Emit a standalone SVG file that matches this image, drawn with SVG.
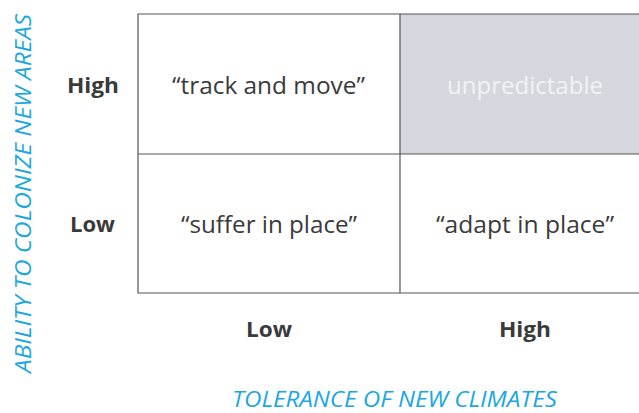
<svg xmlns="http://www.w3.org/2000/svg" width="639" height="413" viewBox="0 0 639 413">
<style>
.cell{font-family:"Open Sans","Noto Sans",sans-serif;font-size:23px;fill:#3a3a3a;text-anchor:middle}
.lab{font-family:"Open Sans","Noto Sans",sans-serif;font-size:22px;font-weight:bold;fill:#3a3a3a;text-anchor:middle}
.axis{font-family:"Open Sans","Noto Sans",sans-serif;font-size:22px;font-style:italic;fill:#1aa7e2;text-anchor:middle}
.ln{stroke:#555;stroke-width:1.2;fill:none}
</style>
<rect width="639" height="413" fill="#fff"/>
<g id="grid">
<rect id="gray" x="400" y="14" width="239" height="140" fill="#d5d6de"/>
<path class="ln" d="M639 14H138V293H639M400 14V293M138 154H639"/>
</g>
<g id="n-track"><text class="cell" x="268.5" y="94" textLength="193" lengthAdjust="spacingAndGlyphs">“track and move”</text></g>
<g id="n-unpred"><text class="cell" x="525" y="94" style="fill:#f2f2f4" textLength="156" lengthAdjust="spacingAndGlyphs">unpredictable</text></g>
<g id="n-suffer"><text class="cell" x="269" y="233" textLength="176" lengthAdjust="spacingAndGlyphs">“suffer in place”</text></g>
<g id="n-adapt"><text class="cell" x="525" y="233" textLength="178" lengthAdjust="spacingAndGlyphs">“adapt in place”</text></g>
<g id="labels">
<text class="lab" x="93" y="93" textLength="52" lengthAdjust="spacingAndGlyphs">High</text>
<text class="lab" x="92.5" y="232" textLength="45" lengthAdjust="spacingAndGlyphs">Low</text>
<text class="lab" x="269" y="337" textLength="46" lengthAdjust="spacingAndGlyphs">Low</text>
<text class="lab" x="525" y="337" textLength="52" lengthAdjust="spacingAndGlyphs">High</text>
<text class="axis" x="394.5" y="407" textLength="325" lengthAdjust="spacingAndGlyphs">TOLERANCE OF NEW CLIMATES</text>
<text class="axis" transform="translate(31 193.5) rotate(-90)" textLength="359" lengthAdjust="spacingAndGlyphs">ABILITY TO COLONIZE NEW AREAS</text>
</g>
</svg>
